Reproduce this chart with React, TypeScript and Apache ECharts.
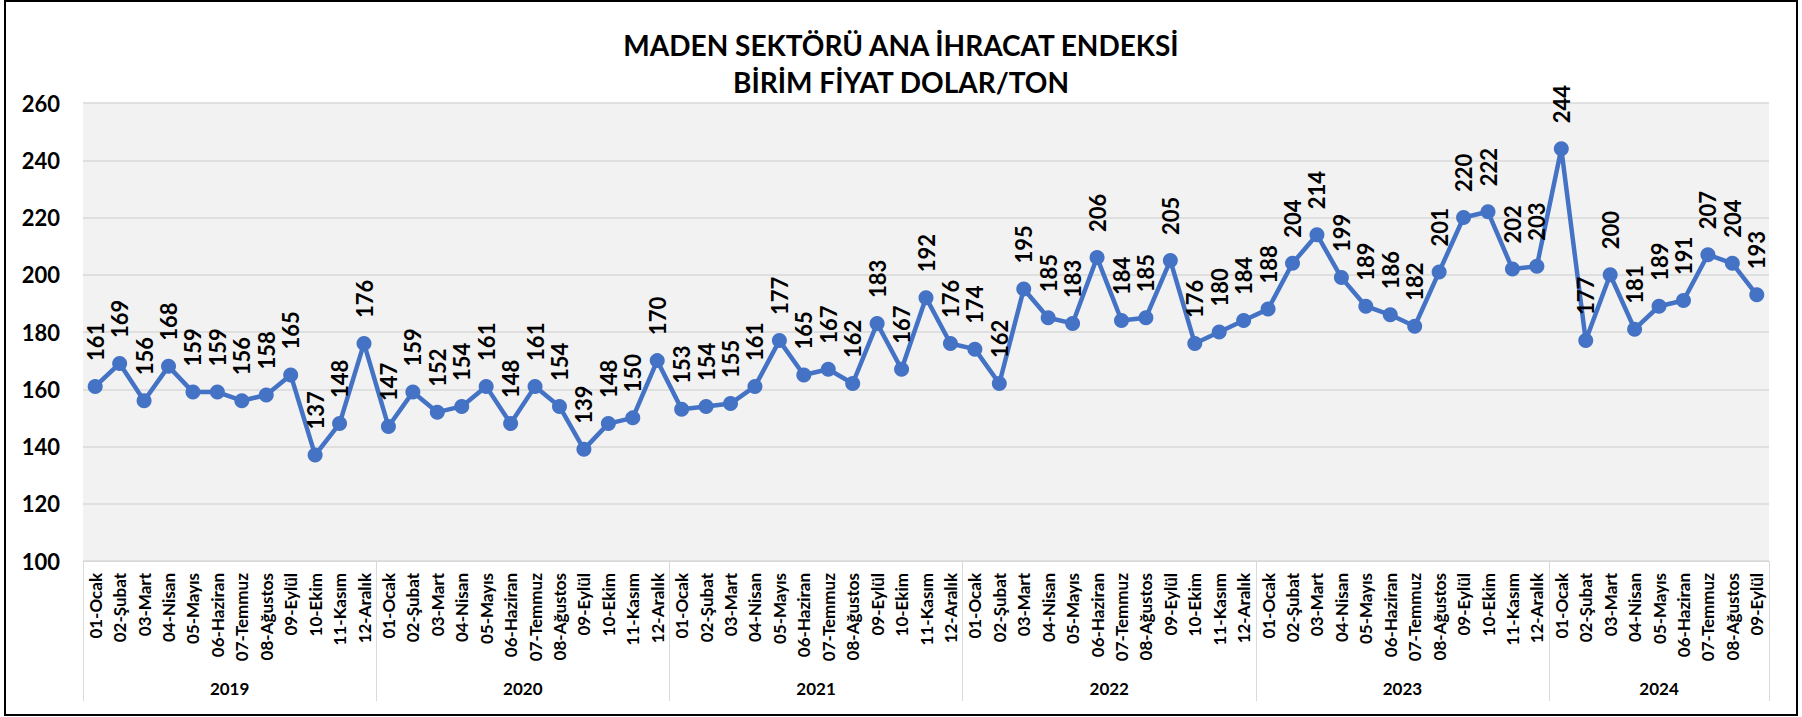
import React, { useEffect, useRef } from "react";
import * as echarts from "echarts";

const years = ["2019", "2020", "2021", "2022", "2023", "2024"];
const monthNames = [
  "01-Ocak", "02-Şubat", "03-Mart", "04-Nisan", "05-Mayıs", "06-Haziran",
  "07-Temmuz", "08-Ağustos", "09-Eylül", "10-Ekim", "11-Kasım", "12-Aralık",
];
const values2019 = [161, 169, 156, 168, 159, 159, 156, 158, 165, 137, 148, 176];
const values2020 = [147, 159, 152, 154, 161, 148, 161, 154, 139, 148, 150, 170];
const values2021 = [153, 154, 155, 161, 177, 165, 167, 162, 183, 167, 192, 176];
const values2022 = [174, 162, 195, 185, 183, 206, 184, 185, 205, 176, 180, 184];
const values2023 = [188, 204, 214, 199, 189, 186, 182, 201, 220, 222, 202, 203];
const values2024 = [244, 177, 200, 181, 189, 191, 207, 204, 193];
const yTicks = { min: 100, max: 260, interval: 20 };
const titleText = "MADEN SEKTÖRÜ ANA İHRACAT ENDEKSİ\nBİRİM FİYAT DOLAR/TON";

const yearValues = [values2019, values2020, values2021, values2022, values2023, values2024];

const FONT = "Lato, 'Open Sans', sans-serif";

export default function App() {
  const ref = useRef<HTMLDivElement>(null);
  useEffect(() => {
    if (!ref.current) return;
    const chart = echarts.init(ref.current, null, { renderer: "svg" });

    const categories: string[] = [];
    const data: number[] = [];
    const yearStarts: number[] = [];
    const yearCenters: number[] = [];
    yearValues.forEach((vals) => {
      const start = categories.length;
      yearStarts.push(start);
      vals.forEach((v, i) => {
        categories.push(monthNames[i]);
        data.push(v);
      });
      yearCenters.push(start + vals.length / 2);
    });
    const total = categories.length;

    chart.setOption({
      animation: false,
      backgroundColor: "#ffffff",
      textStyle: { fontFamily: FONT },
      title: {
        text: titleText,
        left: "center",
        top: 21,
        textStyle: {
          fontFamily: FONT,
          fontSize: 28,
          fontWeight: "bold",
          color: "#000000",
          lineHeight: 37,
        },
      },
      graphic: [
        {
          type: "rect",
          shape: { x: 5, y: 1, width: 1792, height: 714 },
          style: { fill: "none", stroke: "#000000", lineWidth: 2 },
          silent: true,
        },
      ],
      grid: {
        left: 83,
        right: 33,
        top: 103,
        bottom: 156,
        show: true,
        backgroundColor: "#F2F2F2",
        borderWidth: 0,
        containLabel: false,
      },
      xAxis: [
        {
          type: "category",
          data: categories,
          boundaryGap: true,
          axisLine: { show: true, lineStyle: { color: "#D9D9D9", width: 1 } },
          axisTick: {
            show: true,
            alignWithLabel: false,
            interval: (i: number) => yearStarts.indexOf(i) >= 0,
            length: 140,
            lineStyle: { color: "#D9D9D9", width: 1 },
          },
          axisLabel: {
            interval: 0,
            rotate: 90,
            margin: 12,
            fontFamily: FONT,
            fontSize: 17,
            fontWeight: "bold",
            color: "#000000",
          },
          splitLine: { show: false },
        },
        {
          type: "value",
          min: 0,
          max: total,
          position: "bottom",
          axisLine: { show: false },
          axisTick: { show: false },
          splitLine: { show: false },
          axisLabel: {
            customValues: yearCenters,
            margin: 119,
            fontFamily: FONT,
            fontSize: 17,
            fontWeight: "bold",
            color: "#000000",
            formatter: (v: number) => {
              const idx = yearCenters.indexOf(v);
              return idx >= 0 ? years[idx] : "";
            },
          },
        },
      ],
      yAxis: {
        type: "value",
        min: yTicks.min,
        max: yTicks.max,
        interval: yTicks.interval,
        axisLine: { show: false },
        axisTick: { show: false },
        axisLabel: {
          margin: 23,
          fontFamily: FONT,
          fontSize: 22,
          fontWeight: "bold",
          color: "#000000",
        },
        splitLine: { show: true, lineStyle: { color: "#D9D9D9", width: 1.5 } },
      },
      series: [
        {
          type: "line",
          xAxisIndex: 0,
          data,
          symbol: "circle",
          symbolSize: 15,
          lineStyle: { color: "#4472C4", width: 4.5 },
          itemStyle: { color: "#4472C4" },
          label: {
            show: true,
            position: "top",
            rotate: 90,
            align: "left",
            verticalAlign: "middle",
            distance: 18,
            fontFamily: FONT,
            fontSize: 22,
            fontWeight: "bold",
            color: "#000000",
          },
        },
      ],
    });
    return () => chart.dispose();
  }, []);
  return (
    <div
      ref={ref}
      style={{ position: "absolute", left: 0, top: 0, width: 1802, height: 717 }}
    />
  );
}
